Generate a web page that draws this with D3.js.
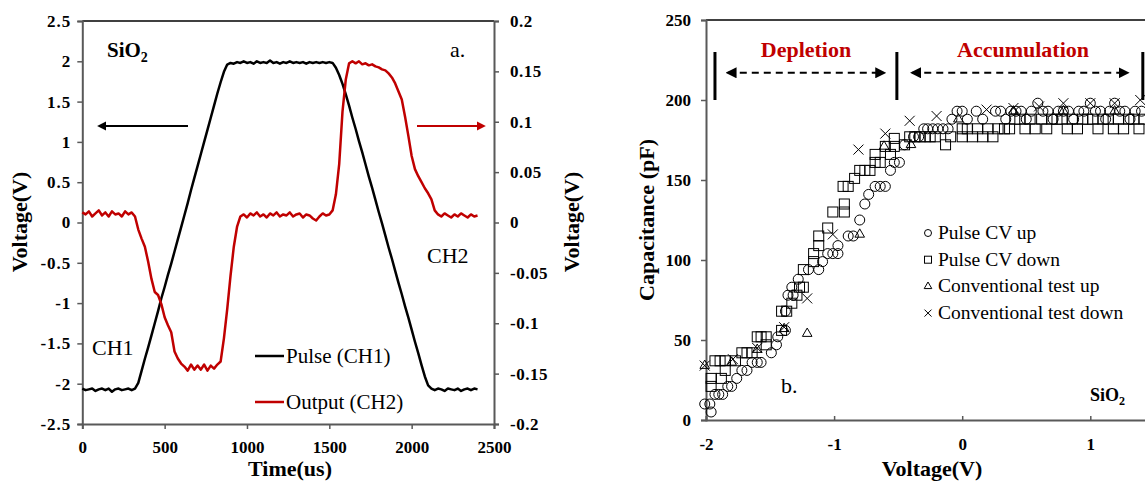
<!DOCTYPE html>
<html>
<head>
<meta charset="utf-8">
<script src="https://cdn.jsdelivr.net/npm/d3@7"></script>
<style>
  body { margin: 0; background: #fff; }
  svg { display: block; font-family: "Liberation Serif", "Times New Roman", serif; }
</style>
</head>
<body>
<svg id="chart" width="1145" height="483"></svg>
<script>
// ---- panel a: pulse + output traces (sampled every 20 us) ----
const timeUs = [0,20,40,60,80,100,120,140,160,180,200,220,240,260,280,300,320,340,360,380,
  400,420,440,460,480,500,520,540,560,580,600,620,640,660,680,700,720,740,760,780,
  800,820,840,860,880,900,920,940,960,980,1000,1020,1040,1060,1080,1100,1120,1140,1160,1180,
  1200,1220,1240,1260,1280,1300,1320,1340,1360,1380,1400,1420,1440,1460,1480,1500,1520,1540,1560,1580,
  1600,1620,1640,1660,1680,1700,1720,1740,1760,1780,1800,1820,1840,1860,1880,1900,1920,1940,1960,1980,
  2000,2020,2040,2060,2080,2100,2120,2140,2160,2180,2200,2220,2240,2260,2280,2300,2320,2340,2360,2380,2400];

const pulseCH1 = [-2.06,-2.08,-2.07,-2.06,-2.09,-2.07,-2.06,-2.08,-2.06,-2.10,-2.07,-2.06,-2.08,-2.07,-2.06,-2.08,-2.06,-1.99,-1.84,-1.69,
  -1.55,-1.40,-1.25,-1.10,-0.94,-0.80,-0.65,-0.51,-0.36,-0.21,-0.06,0.09,0.24,0.40,0.55,0.70,0.85,1.00,1.15,1.30,
  1.45,1.60,1.74,1.87,1.96,1.98,1.97,1.99,1.98,2.00,1.98,1.99,1.97,2.00,1.98,1.99,1.98,2.01,1.98,1.99,
  1.97,1.99,1.98,2.00,1.98,1.99,1.98,1.99,1.97,1.99,1.98,1.99,1.98,1.99,1.98,1.99,1.98,1.92,1.83,1.72,
  1.59,1.45,1.30,1.16,1.01,0.87,0.72,0.57,0.43,0.28,0.13,-0.01,-0.16,-0.31,-0.45,-0.60,-0.75,-0.89,-1.04,-1.18,
  -1.33,-1.48,-1.62,-1.77,-1.91,-2.02,-2.06,-2.08,-2.06,-2.07,-2.09,-2.06,-2.07,-2.08,-2.06,-2.09,-2.07,-2.06,-2.08,-2.06,-2.07];

const outputCH2 = [0.010,0.008,0.011,0.006,0.009,0.012,0.007,0.010,0.006,0.011,0.008,0.009,0.006,0.011,0.008,0.010,0.006,-0.007,-0.016,-0.024,
  -0.039,-0.056,-0.069,-0.072,-0.081,-0.094,-0.102,-0.109,-0.128,-0.135,-0.140,-0.143,-0.147,-0.141,-0.146,-0.142,-0.146,-0.141,-0.147,-0.142,
  -0.145,-0.141,-0.138,-0.115,-0.086,-0.053,-0.024,-0.004,0.006,0.008,0.005,0.009,0.007,0.010,0.006,0.008,0.005,0.009,0.007,0.010,
  0.006,0.008,0.007,0.010,0.006,0.008,0.009,0.005,0.008,0.007,0.004,0.002,0.006,0.009,0.007,0.008,0.012,0.028,0.058,0.110,
  0.142,0.158,0.160,0.158,0.160,0.157,0.158,0.156,0.157,0.155,0.154,0.152,0.151,0.148,0.144,0.138,0.130,0.122,0.105,0.086,
  0.066,0.053,0.046,0.040,0.034,0.029,0.023,0.012,0.008,0.006,0.009,0.007,0.005,0.008,0.006,0.009,0.007,0.005,0.008,0.006,0.007];

const timeTicks = [0, 500, 1000, 1500, 2000, 2500];
const leftVoltTicks = [-2.5, -2, -1.5, -1, -0.5, 0, 0.5, 1, 1.5, 2, 2.5];
const rightVoltTicks = [-0.2, -0.15, -0.1, -0.05, 0, 0.05, 0.1, 0.15, 0.2];

// ---- panel b: C-V points [voltage, capacitance] ----
const pulseUp = [[-2.01,10],[-1.97,10],[-1.96,5],[-1.93,16],[-1.90,16],[-1.87,16],[-1.83,21],[-1.80,21],[-1.76,26],[-1.72,31],
  [-1.68,31],[-1.64,36],[-1.60,36],[-1.57,36],[-1.49,42],[-1.45,47],[-1.44,52],[-1.38,56],[-1.38,68],[-1.36,78],
  [-1.32,78],[-1.33,83],[-1.28,88],[-1.20,94],[-1.12,94],[-1.09,99],[-1.05,104],[-1.01,104],[-0.97,104],[-0.97,109],
  [-0.89,115],[-0.85,115],[-0.80,125],[-0.76,135],[-0.73,141],[-0.68,146],[-0.64,146],[-0.60,146],[-0.56,156],[-0.53,161],
  [-0.49,161],[-0.45,172],[-0.38,177],[-0.34,177],[-0.30,182],[-0.27,182],[-0.23,182],[-0.19,182],[-0.15,182],[-0.11,182],
  [-0.08,188],[-0.04,193],[0,193],[0.04,188],[0.11,193],[0.16,188],[0.26,193],[0.30,193],[0.34,188],[0.38,193],
  [0.42,193],[0.46,193],[0.50,188],[0.54,193],[0.59,198],[0.63,193],[0.67,193],[0.71,188],[0.75,193],[0.79,193],
  [0.83,193],[0.87,188],[0.91,193],[0.95,193],[1.00,198],[1.04,193],[1.08,193],[1.12,188],[1.15,193],[1.19,198],
  [1.23,193],[1.27,193],[1.31,188],[1.35,193],[1.40,193]];

const pulseDown = [[-1.96,21],[-1.96,26],[-1.93,37],[-1.89,37],[-1.85,37],[-1.88,26],[-1.85,31],[-1.77,37],[-1.72,42],[-1.68,42],
  [-1.64,42],[-1.60,52],[-1.57,52],[-1.53,52],[-1.53,47],[-1.41,56],[-1.41,68],[-1.37,68],[-1.33,73],[-1.29,78],
  [-1.27,83],[-1.24,83],[-1.24,94],[-1.16,99],[-1.16,104],[-1.12,109],[-1.12,115],[-1.05,120],[-1.01,130],[-0.92,130],
  [-0.92,135],[-0.93,146],[-0.89,146],[-0.84,151],[-0.80,156],[-0.76,156],[-0.72,156],[-0.68,161],[-0.64,161],[-0.68,166],
  [-0.56,166],[-0.60,171],[-0.53,171],[-0.53,176],[-0.45,172],[-0.41,177],[-0.37,177],[-0.33,177],[-0.29,177],[-0.25,177],
  [-0.21,177],[-0.13,172],[-0.09,177],[0,177],[0,182],[0.04,182],[0.08,177],[0.12,182],[0.16,177],[0.20,182],
  [0.24,177],[0.28,182],[0.33,182],[0.37,182],[0.41,188],[0.45,188],[0.49,182],[0.53,188],[0.57,182],[0.62,188],
  [0.66,182],[0.70,188],[0.74,188],[0.78,188],[0.82,182],[0.86,188],[0.90,182],[0.94,188],[0.98,188],[1.02,188],
  [1.06,182],[1.10,188],[1.14,188],[1.18,182],[1.22,188],[1.26,182],[1.30,188],[1.34,188],[1.38,182],[1.42,188]];

const convUp = [[-2.01,34],[-1.80,36],[-1.60,44],[-1.39,57],[-1.21,54],[-0.80,116],[-0.61,171],[-0.40,172],
  [-0.03,188],[0.40,193],[0.79,193],[1.19,193]];

const convDown = [[-2.01,34],[-1.79,38],[-1.60,45],[-1.39,58],[-1.21,76],[-1.01,116],[-0.81,169],[-0.60,179],
  [-0.41,187],[-0.20,190],[0.19,194],[0.40,195],[0.60,196],[0.79,198],[1.00,198],[1.19,198],[1.39,200]];

const cvVoltTicks = [-2, -1, 0, 1];
const capTicks = [0, 50, 100, 150, 200, 250];
const cvLegend = ["Pulse CV up", "Pulse CV down", "Conventional test up", "Conventional test down"];

const RED = "#c00000";
const AXIS = "#595959";
const plain = d => String(d);   // keep ascii hyphen like the original

let svg = d3.select("#chart");

// arrow heads
let defs = svg.append("defs");
function marker(id, color, size) {
  defs.append("marker")
    .attr("id", id)
    .attr("viewBox", "0 0 10 10")
    .attr("refX", 8).attr("refY", 5)
    .attr("markerWidth", size).attr("markerHeight", size)
    .attr("orient", "auto-start-reverse")
    .append("path")
    .attr("d", "M0,0 L10,5 L0,10 z")
    .attr("fill", color);
}
marker("arrBlack", "#000", 4.2);
marker("arrRed", RED, 4.2);
marker("arrDash", "#000", 5.5);

function label(g, txt, x, y, opts) {
  opts = opts || {};
  return g.append("text")
    .attr("x", x).attr("y", y)
    .attr("text-anchor", opts.anchor || "start")
    .attr("font-size", opts.size || 20)
    .attr("font-weight", opts.bold ? "bold" : "normal")
    .attr("fill", opts.color || "#000")
    .text(txt);
}

function styleAxis(ax) {
  ax.select(".domain").attr("stroke", AXIS).attr("stroke-width", 2);
  ax.selectAll(".tick line").attr("stroke", AXIS).attr("stroke-width", 1.5);
  ax.selectAll(".tick text")
    .attr("font-family", "Liberation Serif, serif")
    .attr("font-size", 17).attr("font-weight", "bold").attr("fill", "#000");
}

// ================= panel a =================
let xT = d3.scaleLinear().domain([0, 2500]).range([82.3, 494]);
let yL = d3.scaleLinear().domain([-2.5, 2.5]).range([424, 21]);
let yR = d3.scaleLinear().domain([-0.2, 0.2]).range([424, 21]);

let a = svg.append("g");

// top border
a.append("line")
  .attr("x1", xT(0)).attr("x2", xT(2500))
  .attr("y1", yL(2.5)).attr("y2", yL(2.5))
  .attr("stroke", "#000").attr("stroke-width", 1.5);

let axX = a.append("g")
  .attr("transform", `translate(0,${yL(-2.5)})`)
  .call(d3.axisBottom(xT).tickValues(timeTicks).tickSize(5).tickPadding(12).tickFormat(plain));
let axL = a.append("g")
  .attr("transform", `translate(${xT(0)},0)`)
  .call(d3.axisLeft(yL).tickValues(leftVoltTicks).tickSize(5).tickPadding(6).tickFormat(plain));
let axR = a.append("g")
  .attr("transform", `translate(${xT(2500)},0)`)
  .call(d3.axisRight(yR).tickValues(rightVoltTicks).tickSize(5).tickPadding(11).tickFormat(plain));
[axX, axL, axR].forEach(styleAxis);
axL.selectAll(".tick text").attr("letter-spacing", 1);
axR.selectAll(".tick text").attr("letter-spacing", 0.5);

let lineA = (vals, yS) => d3.line()
  .x((d, i) => xT(timeUs[i]))
  .y(d => yS(d))(vals);

a.append("path")
  .attr("d", lineA(pulseCH1, yL))
  .attr("fill", "none").attr("stroke", "#000").attr("stroke-width", 2.5)
  .attr("stroke-linejoin", "round");
a.append("path")
  .attr("d", lineA(outputCH2, yR))
  .attr("fill", "none").attr("stroke", RED).attr("stroke-width", 2.5)
  .attr("stroke-linejoin", "round");

// axis side arrows
a.append("line")
  .attr("x1", 188).attr("y1", 126).attr("x2", 99).attr("y2", 126)
  .attr("stroke", "#000").attr("stroke-width", 2.2)
  .attr("marker-end", "url(#arrBlack)");
a.append("line")
  .attr("x1", 417).attr("y1", 126).attr("x2", 484).attr("y2", 126)
  .attr("stroke", RED).attr("stroke-width", 2.2)
  .attr("marker-end", "url(#arrRed)");

// SiO2 tag
let sio = label(a, "SiO", 107, 57, {size: 21, bold: true});
sio.append("tspan").attr("font-size", 14).attr("dy", 5).text("2");
label(a, "a.", 450, 57, {size: 22});
label(a, "CH1", 92, 355, {size: 22});
label(a, "CH2", 427, 263, {size: 22});

// legend
[["Pulse (CH1)", "#000", 356], ["Output (CH2)", RED, 402]].forEach(([t, c, y]) => {
  a.append("line").attr("x1", 255).attr("x2", 284).attr("y1", y).attr("y2", y)
    .attr("stroke", c).attr("stroke-width", 2.5);
  label(a, t, 286, y + 7, {size: 21});
});

// titles
label(a, "Time(us)", 290, 476, {size: 22, bold: true, anchor: "middle"});
label(a, "Voltage(V)", 0, 0, {size: 22, bold: true, anchor: "middle"})
  .attr("transform", "translate(27,222) rotate(-90)");
label(a, "Voltage(V)", 0, 0, {size: 22, bold: true, anchor: "middle"})
  .attr("transform", "translate(579,222) rotate(-90)");

// ================= panel b =================
let xV = d3.scaleLinear().domain([-2, 1.5]).range([706, 706 + 3.5 * 128.1]);
let yC = d3.scaleLinear().domain([0, 250]).range([420, 20]);

let b = svg.append("g");

b.append("line")
  .attr("x1", xV(-2)).attr("x2", xV(1.5))
  .attr("y1", yC(250)).attr("y2", yC(250))
  .attr("stroke", "#000").attr("stroke-width", 1.5);

let bx = b.append("g")
  .attr("transform", `translate(0,${yC(0)})`)
  .call(d3.axisBottom(xV).tickValues(cvVoltTicks).tickSize(-4).tickPadding(18).tickFormat(plain));
let by = b.append("g")
  .attr("transform", `translate(${xV(-2)},0)`)
  .call(d3.axisLeft(yC).tickValues(capTicks).tickSize(5).tickPadding(10).tickFormat(plain));
[bx, by].forEach(styleAxis);
bx.selectAll(".tick text").attr("dy", "0.71em");

let pts = b.append("g").attr("fill", "none").attr("stroke", "#000").attr("stroke-width", 1);

pts.selectAll(".up").data(pulseUp).join("circle")
  .attr("cx", d => xV(d[0])).attr("cy", d => yC(d[1])).attr("r", 5);
pts.selectAll(".down").data(pulseDown).join("rect")
  .attr("x", d => xV(d[0]) - 5).attr("y", d => yC(d[1]) - 5)
  .attr("width", 10).attr("height", 10);
let tri = d3.symbol().type(d3.symbolTriangle).size(40);
pts.selectAll(".cu").data(convUp).join("path")
  .attr("transform", d => `translate(${xV(d[0])},${yC(d[1])})`)
  .attr("d", tri);
let xMark = s => `M${-s},${-s}L${s},${s}M${-s},${s}L${s},${-s}`;
pts.selectAll(".cd").data(convDown).join("path")
  .attr("transform", d => `translate(${xV(d[0])},${yC(d[1])})`)
  .attr("d", xMark(5));

// region markers
[-1.93, -0.51, 1.41].forEach(v => {
  b.append("line")
    .attr("x1", xV(v)).attr("x2", xV(v))
    .attr("y1", yC(230)).attr("y2", yC(200))
    .attr("stroke", "#000").attr("stroke-width", 3);
});
[[-1.83, -0.61], [-0.39, 1.29]].forEach(([v0, v1]) => {
  b.append("line")
    .attr("x1", xV(v0)).attr("x2", xV(v1))
    .attr("y1", yC(217)).attr("y2", yC(217))
    .attr("stroke", "#000").attr("stroke-width", 2)
    .attr("stroke-dasharray", "7,5")
    .attr("marker-start", "url(#arrDash)")
    .attr("marker-end", "url(#arrDash)");
});
label(b, "Depletion", 806, 57, {size: 22, bold: true, anchor: "middle", color: RED});
label(b, "Accumulation", 1023, 57, {size: 22, bold: true, anchor: "middle", color: RED});

// legend
let lg = b.append("g");
cvLegend.forEach((t, i) => {
  let y = 233 + i * 26.7;
  let m = lg.append("g").attr("transform", `translate(928,${y})`)
    .attr("fill", "none").attr("stroke", "#000").attr("stroke-width", 1);
  if (i === 0) m.append("circle").attr("r", 3.5);
  if (i === 1) m.append("rect").attr("x", -3.5).attr("y", -3.5).attr("width", 7).attr("height", 7);
  if (i === 2) m.append("path").attr("d", d3.symbol().type(d3.symbolTriangle).size(25));
  if (i === 3) m.append("path").attr("d", xMark(3.5));
  label(lg, t, 938, y + 6, {size: 19.5});
});

label(b, "b.", 781, 393, {size: 22});
let sio2 = label(b, "SiO", 1090, 401, {size: 18, bold: true});
sio2.append("tspan").attr("font-size", 12).attr("dy", 4).text("2");

label(b, "Voltage(V)", 932, 476, {size: 22, bold: true, anchor: "middle"});
label(b, "Capacitance (pF)", 0, 0, {size: 22, bold: true, anchor: "middle"})
  .attr("transform", "translate(654,220) rotate(-90)");
</script>
</body>
</html>
